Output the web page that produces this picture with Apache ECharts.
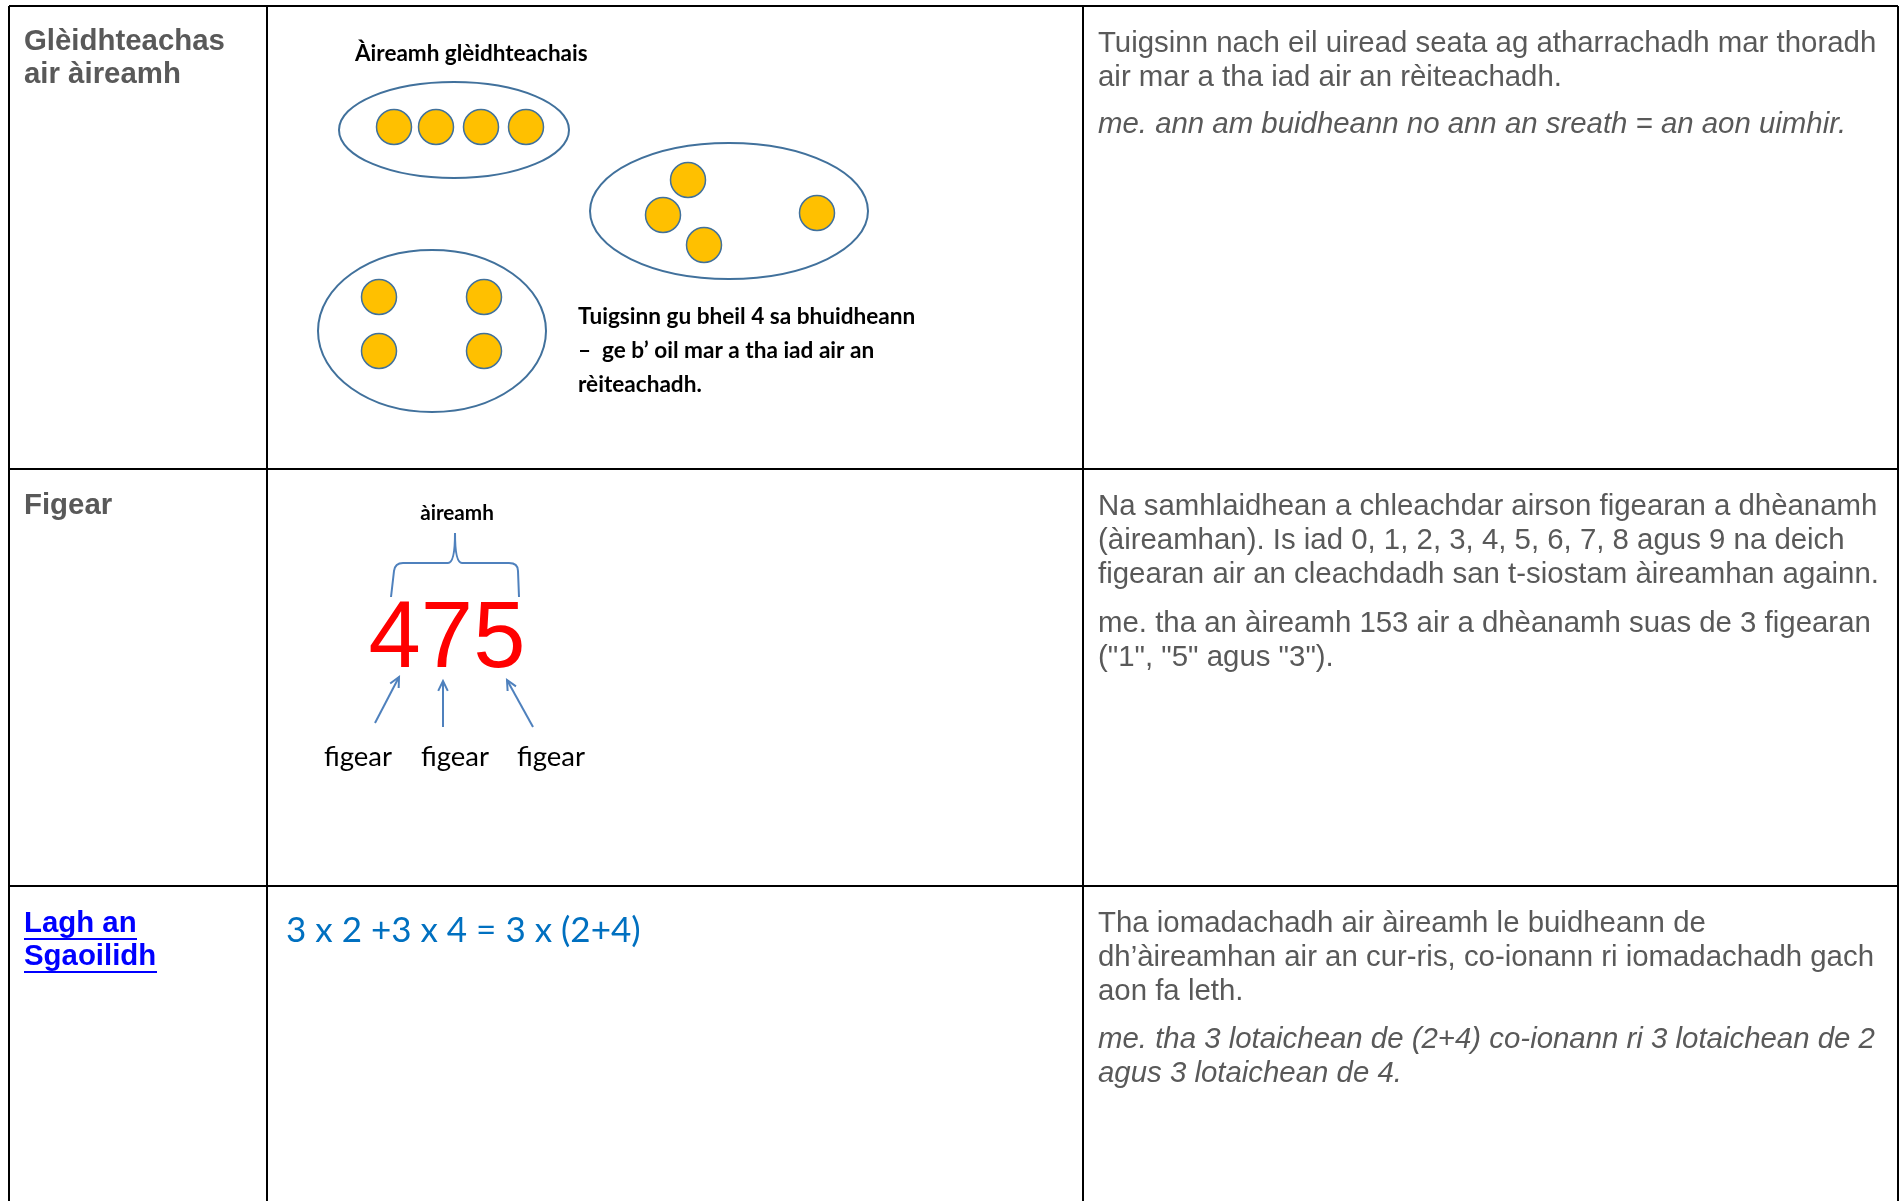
<!DOCTYPE html>
<html lang="gd">
<head>
    <meta charset="utf-8">
    <title>Àireamh</title>
    <script src="https://cdn.jsdelivr.net/npm/echarts@6/dist/echarts.min.js"></script>
    <style>
        html, body { margin: 0; padding: 0; background: #fff; }
        #main { width: 1901px; height: 1201px; }
    </style>
</head>
<body>
<div id="main"></div>
<script>
    // table lines (axis units = pixels)
    var colX = [9, 267, 1083, 1898];
    var rowY = [6, 469, 886];
    var tableBottom = 1201;

    // dots for the three groups
    var dotsRow = [[394, 127], [436, 127], [481, 127], [526, 127]];
    var dotsLoose = [[688, 180], [663, 215], [704, 245], [817, 213]];
    var dotsSquare = [[379, 297], [484, 297], [379, 351], [484, 351]];
    var dotSize = 35;

    // group ellipses: cx, cy, rx, ry
    var groups = [[454, 130, 115, 48], [729, 211, 139, 68], [432, 331, 114, 81]];

    // arrows: x0, y0, x1, y1
    var arrows = [[375, 723, 399, 677], [443, 727, 443, 681], [533, 727, 507, 680]];

    // brace: left end, tip, right end, bar level
    var brace = [[391, 597], [455, 533], [519, 597]];
    var braceBarY = 563;

    var lineData = [];
    colX.forEach(function (x) { lineData.push([x, rowY[0], x, tableBottom]); });
    rowY.forEach(function (y) { lineData.push([colX[0], y, colX[colX.length - 1], y]); });

    var arial = '"Liberation Sans", Arial, sans-serif';
    var calibri = 'Lato, "Open Sans", sans-serif';
    var grey = '#595959';
    var body = '29.4px ' + arial;
    var head = 'bold 29.4px ' + arial;

    function txt(x, y, text, font, fill, align, va, lh) {
        return {
            type: 'text', x: x, y: y, silent: true,
            style: {
                text: text, font: font, fill: fill,
                align: align || 'left', textAlign: align || 'left',
                verticalAlign: va || 'top', textVerticalAlign: va || 'top',
                lineHeight: lh || 34
            }
        };
    }

    var texts = [
        // left column
        txt(24, 25, 'Glèidhteachas\nair àireamh', head, grey, 'left', 'top', 33),
        txt(24, 489, 'Figear', head, grey),
        txt(24, 907, 'Lagh an\nSgaoilidh', head, '#0000FF', 'left', 'top', 33),
        { type: 'line', silent: true, shape: { x1: 24, y1: 939, x2: 137, y2: 939 }, style: { stroke: '#0000FF', lineWidth: 2 } },
        { type: 'line', silent: true, shape: { x1: 24, y1: 972, x2: 157, y2: 972 }, style: { stroke: '#0000FF', lineWidth: 2 } },

        // middle column
        txt(355, 54, 'Àireamh glèidhteachais', 'bold 22.5px ' + calibri, '#000', 'left', 'middle'),
        txt(578, 300, 'Tuigsinn gu bheil 4 sa bhuidheann\n–  ge b’ oil mar a tha iad air an\nrèiteachadh.', 'bold 22.6px ' + calibri, '#000'),
        txt(457, 513, 'àireamh', 'bold 20.7px ' + calibri, '#000', 'center', 'middle'),
        txt(447, 641, '475', '94px ' + arial, '#FF0000', 'center', 'middle'),
        txt(358, 757, 'figear', '27.5px ' + calibri, '#000', 'center', 'middle'),
        txt(455, 757, 'figear', '27.5px ' + calibri, '#000', 'center', 'middle'),
        txt(551, 757, 'figear', '27.5px ' + calibri, '#000', 'center', 'middle'),
        txt(286, 931, '3 x 2 +3 x 4 = 3 x (2+4)', '35px ' + calibri, '#0070C0', 'left', 'middle'),

        // right column
        txt(1098, 27, 'Tuigsinn nach eil uiread seata ag atharrachadh mar thoradh\nair mar a tha iad air an rèiteachadh.', body, grey),
        txt(1098, 108, 'me. ann am buidheann no ann an sreath = an aon uimhir.', 'italic ' + body, grey),
        txt(1098, 490, 'Na samhlaidhean a chleachdar airson figearan a dhèanamh\n(àireamhan). Is iad 0, 1, 2, 3, 4, 5, 6, 7, 8 agus 9 na deich\nfigearan air an cleachdadh san t-siostam àireamhan againn.', body, grey),
        txt(1098, 607, 'me. tha an àireamh 153 air a dhèanamh suas de 3 figearan\n("1", "5" agus "3").', body, grey),
        txt(1098, 907, 'Tha iomadachadh air àireamh le buidheann de\ndh’àireamhan air an cur-ris, co-ionann ri iomadachadh gach\naon fa leth.', body, grey),
        txt(1098, 1023, 'me. tha 3 lotaichean de (2+4) co-ionann ri 3 lotaichean de 2\nagus 3 lotaichean de 4.', 'italic ' + body, grey)
    ];

    var chart = echarts.init(document.getElementById('main'));
    chart.setOption({
        animation: false,
        backgroundColor: '#fff',
        grid: { left: 0, right: 0, top: 0, bottom: 0 },
        xAxis: { type: 'value', min: 0, max: 1901, show: false },
        yAxis: { type: 'value', min: 0, max: 1201, inverse: true, show: false },
        graphic: texts,
        series: [
            {
                // table borders
                type: 'custom',
                data: lineData,
                silent: true,
                renderItem: function (params, api) {
                    var a = api.coord([api.value(0), api.value(1)]);
                    var b = api.coord([api.value(2), api.value(3)]);
                    return {
                        type: 'line',
                        shape: { x1: a[0], y1: a[1], x2: b[0], y2: b[1] },
                        style: { stroke: '#000', lineWidth: 2 }
                    };
                }
            },
            {
                // group outlines
                type: 'custom',
                data: groups,
                silent: true,
                renderItem: function (params, api) {
                    var c = api.coord([api.value(0), api.value(1)]);
                    var s = api.size([api.value(2) * 2, api.value(3) * 2]);
                    return {
                        type: 'ellipse',
                        shape: { cx: c[0], cy: c[1], rx: s[0] / 2, ry: s[1] / 2 },
                        style: { fill: 'none', stroke: '#41719C', lineWidth: 2 }
                    };
                }
            },
            {
                type: 'scatter',
                data: dotsRow.concat(dotsLoose, dotsSquare),
                symbol: 'circle',
                symbolSize: dotSize,
                silent: true,
                itemStyle: { color: '#FFC000', borderColor: '#41719C', borderWidth: 1.5, opacity: 1 }
            },
            {
                // arrows to the digits
                type: 'custom',
                data: arrows,
                silent: true,
                renderItem: function (params, api) {
                    var a = api.coord([api.value(0), api.value(1)]);
                    var b = api.coord([api.value(2), api.value(3)]);
                    var ang = Math.atan2(b[1] - a[1], b[0] - a[0]);
                    var h = 11, w = 0.45;
                    var p1 = [b[0] - h * Math.cos(ang - w), b[1] - h * Math.sin(ang - w)];
                    var p2 = [b[0] - h * Math.cos(ang + w), b[1] - h * Math.sin(ang + w)];
                    var st = { stroke: '#4F81BD', lineWidth: 2, fill: 'none' };
                    return {
                        type: 'group',
                        children: [
                            { type: 'line', shape: { x1: a[0], y1: a[1], x2: b[0], y2: b[1] }, style: st },
                            { type: 'polyline', shape: { points: [p1, b, p2] }, style: st }
                        ]
                    };
                }
            },
            {
                // brace over the number
                type: 'custom',
                data: [brace[0].concat(brace[1], brace[2], [braceBarY])],
                silent: true,
                renderItem: function (params, api) {
                    var l = api.coord([api.value(0), api.value(1)]);
                    var t = api.coord([api.value(2), api.value(3)]);
                    var r = api.coord([api.value(4), api.value(5)]);
                    var by = api.coord([0, api.value(6)])[1];
                    var d = 'M' + l[0] + ',' + l[1] +
                        ' L' + (l[0] + 3) + ',' + (by + 8) +
                        ' Q' + (l[0] + 4) + ',' + by + ' ' + (l[0] + 12) + ',' + by +
                        ' L' + (t[0] - 7) + ',' + by +
                        ' Q' + t[0] + ',' + by + ' ' + t[0] + ',' + t[1] +
                        ' Q' + t[0] + ',' + by + ' ' + (t[0] + 7) + ',' + by +
                        ' L' + (r[0] - 10) + ',' + by +
                        ' Q' + (r[0] - 1) + ',' + by + ' ' + (r[0] - 1) + ',' + (by + 8) +
                        ' L' + r[0] + ',' + r[1];
                    return {
                        type: 'path',
                        shape: { pathData: d },
                        style: { stroke: '#4F81BD', lineWidth: 2, fill: 'none' }
                    };
                }
            }
        ]
    });
</script>
</body>
</html>
